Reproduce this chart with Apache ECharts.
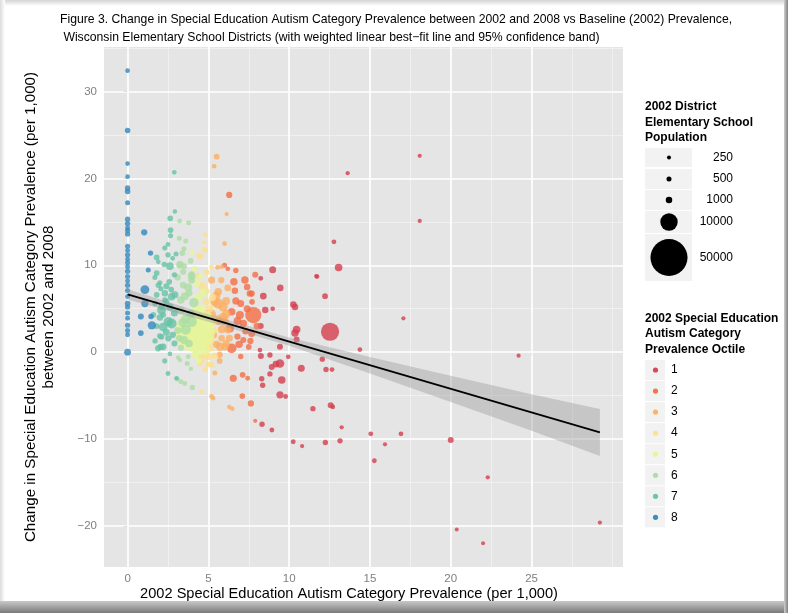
<!DOCTYPE html>
<html><head><meta charset="utf-8">
<script src="https://cdn.jsdelivr.net/npm/echarts@6/dist/echarts.min.js"></script>
<style>html,body{margin:0;padding:0;background:#fff}#c{width:788px;height:613px}</style>
</head><body><div id="c"></div>
<script>
// ---------- data ----------
const xTicks = [0, 5, 10, 15, 20, 25];
const yTicks = [-20, -10, 0, 10, 20, 30];
const xMinor = [2.5, 7.5, 12.5, 17.5, 22.5, 27.5, 30];
const yMinor = [-15, -5, 5, 15, 25, 35];
const octileLabels = ['1', '2', '3', '4', '5', '6', '7', '8'];
const sizeLegendValues = [250, 500, 1000, 10000, 50000];

// [2002 prevalence, change 2002-2008, 2002 population]
const oct1 = [[18.08,22.6,300],[13.62,20.6,300],[18.08,15.1,300],[12.77,12.7,450],[13.06,9.75,1500],[8.98,9.5,1200],[8.24,8.5,450],[11.72,8.7,450],[11.68,8.76,300],[9.45,7.4,1000],[12.22,6.45,700],[8.4,6.46,1100],[8.98,5.0,400],[8.52,4.85,1000],[10.26,5.5,1000],[10.36,5.2,1000],[8.24,3.0,800],[17.07,3.9,300],[12.53,2.35,11000],[10.46,2.6,1500],[10.36,2.2,1400],[10.46,1.47,800],[9.43,0.62,800],[8.19,0.24,400],[8.25,-0.45,800],[8.81,-0.33,600],[9.18,-1.37,1100],[9.43,-1.3,2000],[8.92,-1.7,800],[9.94,-0.53,400],[10.75,-1.85,1200],[14.38,0.3,400],[12.05,-0.8,600],[12.28,-2.0,600],[12.65,-2.0,450],[11.47,-6.5,600],[12.57,-6.1,800],[12.7,-6.3,400],[13.25,-8.65,300],[24.2,-0.4,300],[10.8,-10.8,300],[10.25,-10.3,450],[12.24,-10.4,600],[13.15,-10.2,600],[15.05,-9.4,450],[15.93,-10.6,300],[16.92,-9.4,450],[15.27,-12.5,450],[20.0,-10.1,800],[22.29,-14.4,300],[20.37,-20.4,250],[22.0,-22.0,250],[29.23,-19.6,300],[8.3,-3.06,600],[8.36,-3.8,600],[8.81,-2.5,600],[9.54,-3.2,1500],[9.43,-4.9,1300],[9.78,-5.1,450],[8.32,-8.3,600],[8.93,-8.96,450]];
const oct2 = [[6.29,18.1,900],[6.0,10.0,500],[6.2,9.6,400],[6.7,9.4,600],[7.9,8.9,800],[6.58,8.1,1400],[7.26,8.3,1400],[7.4,7.5,1000],[6.64,7.07,1000],[7.57,6.76,1000],[7.68,6.75,900],[6.7,5.9,1300],[7.7,5.8,700],[7.0,5.6,1200],[7.4,5.0,1200],[6.44,4.65,1400],[6.95,4.27,1700],[7.78,4.27,8500],[6.8,3.6,1500],[7.16,3.3,1400],[6.33,2.74,1700],[8.0,3.0,1000],[7.3,2.4,1000],[7.68,2.16,1200],[6.8,1.8,900],[7.16,1.4,800],[7.6,1.3,900],[6.9,0.9,1400],[7.5,0.6,700],[6.44,0.44,2700],[7.0,-0.5,600],[7.12,-2.6,700],[6.54,-3.0,1300],[7.43,-3.0,450],[7.1,-5.05,700],[7.63,-5.9,900],[7.9,-7.9,300]];
const oct3 = [[5.51,22.5,700],[5.36,21.4,400],[6.13,15.9,300],[6.0,12.5,400],[5.57,9.76,400],[5.82,9.83,400],[5.2,8.3,1300],[5.8,8.3,900],[6.2,7.4,1100],[5.61,6.95,1400],[5.5,6.5,1600],[6.1,5.9,1600],[5.4,5.8,2000],[5.61,5.6,3000],[5.92,5.2,2300],[6.1,4.4,2000],[5.1,4.27,4500],[5.9,4.0,2200],[5.61,3.7,2700],[6.0,3.6,1800],[5.82,2.62,1400],[6.2,2.6,1500],[5.3,2.0,1500],[5.82,1.6,1000],[6.3,1.6,1200],[6.1,1.0,1200],[5.5,0.9,1300],[5.72,0.62,1900],[6.02,0.62,1400],[5.7,-0.3,900],[5.7,-1.0,700],[5.4,-2.4,500],[5.2,-5.1,450],[5.3,-5.3,350],[6.29,-6.3,350],[6.48,-6.5,350]];
const oct4 = [[4.8,13.5,400],[4.74,12.6,300],[4.79,11.8,700],[4.48,11.06,1200],[5.2,9.8,500],[4.9,9.2,800],[4.3,8.8,700],[4.64,7.6,1800],[4.9,7.0,800],[5.25,6.3,1300],[4.9,5.8,1200],[5.1,5.04,1300],[5.3,3.6,2200],[5.3,2.5,1500],[5.0,1.5,5000],[5.1,0.5,1500],[4.89,-0.22,900],[5.4,-0.4,900],[4.58,-0.53,1000],[4.99,-0.53,1100],[4.6,-0.9,600],[5.2,-1.48,800],[4.48,-1.3,800],[4.99,-1.4,800],[4.8,-2.0,600],[4.58,-4.55,450]];
const oct5 = [[4.17,2.35,58000],[4.7,3.0,14000],[4.0,11.5,500],[4.15,9.6,700],[4.5,8.6,900],[4.25,7.9,1100],[4.7,6.9,1300],[4.4,6.3,2500],[4.6,5.0,1800],[4.3,4.8,4000],[4.9,4.2,2500],[4.5,3.8,3500],[3.9,1.9,6000],[4.6,1.2,5000],[4.0,0.8,3000],[4.8,0.2,2500],[4.3,0.0,2000],[4.2,-0.3,1500],[4.4,-1.0,900]];
const oct6 = [[3.22,15.1,450],[3.78,14.9,500],[3.2,13.1,500],[3.6,12.8,500],[3.49,11.9,500],[3.39,11.4,700],[3.9,10.5,700],[3.23,10.0,900],[3.5,9.9,700],[3.24,10.1,1300],[3.44,9.25,900],[3.96,9.0,700],[3.96,8.76,1500],[3.1,8.6,900],[3.96,8.3,1200],[3.44,7.72,1100],[3.75,7.45,1600],[3.8,6.8,1200],[3.55,6.45,1600],[3.3,6.0,1400],[4.1,5.7,2500],[3.3,4.8,1500],[3.9,4.4,1800],[3.6,3.8,2500],[3.96,3.5,3200],[3.4,3.4,2000],[3.6,2.6,3000],[3.1,2.5,1200],[3.2,1.6,1100],[3.5,1.4,1800],[3.8,1.0,1500],[3.3,0.5,900],[3.75,-0.53,450],[3.24,-0.9,350],[3.13,-0.6,350],[3.69,-1.3,500],[3.92,-1.9,350],[3.07,-3.1,450],[3.3,-3.4,450],[3.54,-3.6,450],[4.01,-4.05,600]];
const oct7 = [[2.89,20.7,400],[2.93,16.2,350],[2.64,15.4,700],[2.66,14.05,700],[2.66,13.4,500],[2.5,12.4,450],[2.3,12.0,500],[3.0,11.3,500],[2.5,11.2,600],[2.79,10.8,400],[1.8,10.9,700],[1.9,10.4,400],[2.27,10.1,600],[2.62,9.9,1500],[2.9,8.9,600],[1.8,9.1,700],[1.69,8.6,500],[2.0,8.0,500],[2.58,8.1,700],[1.9,7.7,600],[2.4,7.6,800],[2.06,7.3,500],[2.7,7.2,700],[2.31,6.77,1000],[2.72,6.38,1400],[1.8,6.6,700],[2.31,6.0,700],[2.93,6.6,1200],[2.4,5.8,800],[1.7,5.6,600],[2.1,5.2,900],[2.62,5.2,1500],[2.1,4.85,2200],[2.9,4.5,1200],[2.2,4.3,700],[1.59,4.3,700],[2.0,4.0,1000],[2.52,3.5,2500],[2.72,3.3,3000],[1.8,3.0,700],[2.2,2.9,2000],[2.4,2.3,1200],[2.8,2.0,900],[2.1,1.77,700],[2.0,1.85,700],[2.52,1.6,900],[1.7,1.3,600],[2.9,1.0,800],[2.04,0.6,900],[2.2,0.62,1100],[1.89,0.44,900],[2.62,-0.2,400],[2.3,-1.0,500],[2.5,-2.45,450],[3.03,-3.0,400]];
const oct8 = [[0,32.4,400],[0,25.5,650],[0,21.7,400],[0,20.2,400],[0,18.9,600],[0,18.5,650],[0,17.2,500],[0,15.3,550],[0,14.8,600],[0,14.3,450],[0,14.0,500],[0,13.6,550],[0,12.2,500],[0,11.7,450],[0,11.2,550],[0,10.7,450],[0,10.3,500],[0,9.8,450],[0,9.3,550],[0,8.7,500],[0,8.2,450],[0,7.7,550],[0,7.1,500],[0,6.4,450],[0,5.6,650],[0,5.2,550],[0,4.5,500],[0,3.9,450],[0,3.1,550],[0,2.5,500],[0,2.0,450],[0,0.0,1100],[1.03,13.8,900],[1.42,11.4,600],[1.28,9.45,500],[1.07,7.2,2200],[1.07,5.6,1300],[0.82,4.1,800],[1.45,4.1,600],[1.5,3.1,1800],[0.82,2.2,700]];

// weighted linear fit and 95% band
const fitX = [0, 29.23];
const fitY = [6.65, -9.24];
const bandX = [0, 5, 10, 15, 20, 25, 29.23];
const bandLow = [6.05, 3.5, 0.75, -2.45, -5.72, -9.04, -11.94];
const bandHigh = [7.25, 4.35, 1.7, -0.55, -2.72, -4.84, -6.54];

// ---------- styling ----------
const octileData = [oct1, oct2, oct3, oct4, oct5, oct6, oct7, oct8];
const octileColors = ['#D53E4F','#F46D43','#FDAE61','#FEE08B','#E6F598','#ABDDA4','#66C2A5','#3288BD'];
const FONT = '"Liberation Sans", Arial, Helvetica, sans-serif';
function popSize(p) { return 1.5 + 0.159 * Math.sqrt(p); }
const minus = v => (v < 0 ? '\u2212' + Math.abs(v) : String(v));

const chart = echarts.init(document.getElementById('c'), null, {renderer: 'canvas'});

const series = [];
series.push({
  type: 'line', data: [], z: 1, silent: true,
  markLine: {
    z: 1, silent: true, symbol: 'none', label: {show: false}, animation: false,
    lineStyle: {color: '#F2F2F2', width: 0.8, type: 'solid'},
    data: xMinor.map(v => ({xAxis: v})).concat(yMinor.map(v => ({yAxis: v})))
  }
});
series.push({
  type: 'line', data: [], z: 1.5, silent: true,
  markLine: {
    z: 1.5, silent: true, symbol: 'none', label: {show: false}, animation: false,
    lineStyle: {color: '#FFFFFF', width: 1.7, type: 'solid'},
    data: xTicks.map(v => ({xAxis: v})).concat(yTicks.map(v => ({yAxis: v})))
  }
});
octileData.forEach((d, i) => {
  series.push({
    type: 'scatter', name: octileLabels[i], data: d, z: 3,
    symbolSize: v => popSize(v[2]),
    itemStyle: {color: octileColors[i], opacity: 0.8},
    emphasis: {disabled: true}
  });
});
series.push({
  type: 'custom', z: 5, silent: true, data: [0],
  renderItem: (params, api) => {
    const pts = [];
    for (let i = 0; i < bandX.length; i++) pts.push(api.coord([bandX[i], bandHigh[i]]));
    for (let i = bandX.length - 1; i >= 0; i--) pts.push(api.coord([bandX[i], bandLow[i]]));
    return {type: 'polygon', shape: {points: pts}, style: {fill: 'rgba(153,153,153,0.4)'}};
  }
});
series.push({
  type: 'line', z: 6, silent: true, symbol: 'none',
  data: fitX.map((x, i) => [x, fitY[i]]),
  lineStyle: {color: '#000', width: 1.8}
});

// ---------- titles & legends (graphic) ----------
const g = [];
g.push({type: 'text', left: 60, top: 14, style: {text: 'Figure 3. Change in Special Education Autism Category Prevalence between 2002 and 2008 vs Baseline (2002) Prevalence,', font: '12.2px ' + FONT, fill: '#000'}});
g.push({type: 'text', left: 60, top: 32, style: {text: ' Wisconsin Elementary School Districts (with weighted linear best\u2212fit line and 95% confidence band)', font: '12.2px ' + FONT, fill: '#000'}});
g.push({type: 'text', x: 349, y: 594, style: {text: '2002 Special Education Autism Category Prevalence (per 1,000)', font: '14.6px ' + FONT, fill: '#000', align: 'center', verticalAlign: 'middle'}});

g.push({type: 'text', left: 645, top: 99, style: {text: '2002 District\nElementary School\nPopulation', font: 'bold 12px ' + FONT, fill: '#000', lineHeight: 15.5}});
const sizeRows = [[148, 19], [169, 20], [190, 20], [211, 22], [234, 47]];
sizeLegendValues.forEach((v, i) => {
  const [top, h] = sizeRows[i];
  const cy = top + h / 2;
  g.push({type: 'rect', shape: {x: 645, y: top, width: 47, height: h}, style: {fill: '#F2F2F2'}});
  g.push({type: 'circle', shape: {cx: 669, cy: cy, r: popSize(v) / 2}, style: {fill: '#000'}});
  g.push({type: 'text', x: 733, y: cy, style: {text: String(v), font: '12px ' + FONT, fill: '#000', align: 'right', verticalAlign: 'middle'}});
});

g.push({type: 'text', left: 645, top: 311, style: {text: '2002 Special Education\nAutism Category\nPrevalence Octile', font: 'bold 12px ' + FONT, fill: '#000', lineHeight: 15.3}});
octileLabels.forEach((lab, i) => {
  const cy = 370 + 21.05 * i;
  g.push({type: 'rect', shape: {x: 645, y: cy - 10, width: 20, height: 20}, style: {fill: '#F2F2F2'}});
  g.push({type: 'circle', shape: {cx: 655.5, cy: cy, r: 2.6}, style: {fill: octileColors[i], opacity: 0.95}});
  g.push({type: 'text', x: 671, y: cy, style: {text: lab, font: '12px ' + FONT, fill: '#000', verticalAlign: 'middle'}});
});

// screenshot frame shading
g.push({type: 'rect', shape: {x: 0, y: 0, width: 788, height: 6}, style: {fill: new echarts.graphic.LinearGradient(0, 0, 0, 1, [{offset: 0, color: '#d4d4d4'}, {offset: 1, color: '#ffffff'}])}});
g.push({type: 'rect', shape: {x: 0, y: 0, width: 5, height: 601}, style: {fill: new echarts.graphic.LinearGradient(0, 0, 1, 0, [{offset: 0, color: '#dcdcdc'}, {offset: 1, color: '#ffffff'}])}});
g.push({type: 'rect', shape: {x: 0, y: 601, width: 788, height: 12}, style: {fill: new echarts.graphic.LinearGradient(0, 0, 0, 1, [{offset: 0, color: '#c8c8c8'}, {offset: 1, color: '#7a7a7a'}])}});
g.push({type: 'rect', shape: {x: 784, y: 0, width: 4, height: 613}, style: {fill: new echarts.graphic.LinearGradient(0, 0, 1, 0, [{offset: 0, color: '#d0d0d0'}, {offset: 1, color: '#808080'}])}});

chart.setOption({
  animation: false,
  backgroundColor: '#fff',
  grid: {left: 104, right: 165, top: 47, bottom: 46, show: true, backgroundColor: '#E5E5E5', borderWidth: 0, containLabel: false},
  xAxis: {
    type: 'value', min: -1.46, max: 30.66,
    axisLine: {show: false},
    axisTick: {show: true, length: 4, customValues: xTicks, lineStyle: {color: '#7F7F7F', width: 1}},
    axisLabel: {customValues: xTicks, margin: 6, color: '#7F7F7F', fontSize: 11.5, fontFamily: FONT, formatter: minus},
    splitLine: {show: false}
  },
  yAxis: {
    type: 'value', min: -24.72, max: 35.12,
    name: 'Change in Special Education Autism Category Prevalence (per 1,000)\nbetween 2002 and 2008',
    nameLocation: 'middle', nameGap: 46, nameRotate: 90,
    nameTextStyle: {fontSize: 15.2, color: '#000', fontFamily: FONT, lineHeight: 18},
    axisLine: {show: false},
    axisTick: {show: true, length: 4, customValues: yTicks, lineStyle: {color: '#7F7F7F', width: 1}},
    axisLabel: {customValues: yTicks, margin: 7, color: '#7F7F7F', fontSize: 11.5, fontFamily: FONT, formatter: minus},
    splitLine: {show: false}
  },
  graphic: g,
  series: series
});
</script></body></html>
